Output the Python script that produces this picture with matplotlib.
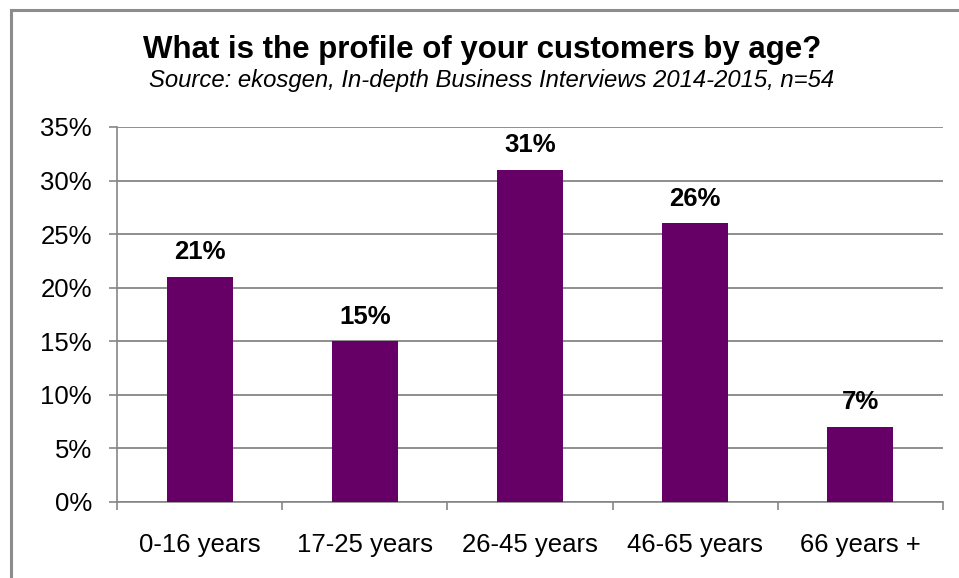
import matplotlib.pyplot as plt
import numpy as np
from matplotlib.lines import Line2D
from matplotlib.ticker import FixedLocator

plt.rcParams["font.family"] = ["Liberation Sans", "DejaVu Sans"]

CATEGORIES = ["0-16 years", "17-25 years", "26-45 years", "46-65 years", "66 years +"]
SHARES = [21, 15, 31, 26, 7]
Y_TICKS = [0, 5, 10, 15, 20, 25, 30, 35]

GRID = "#868686"
BAR = "#660066"

fig = plt.figure(figsize=(9.59, 5.78), dpi=100)
ax = fig.add_axes([0.122, 0.1315, 0.8613, 0.6488])

x = np.arange(len(CATEGORIES))
ax.bar(x, SHARES, width=0.4, color=BAR, zorder=3)
for xi, v in zip(x, SHARES):
    ax.annotate(f"{v}%", (xi, v), xytext=(0, 9), textcoords="offset points",
                ha="center", va="bottom", fontsize=18.5, fontweight="bold")

ax.set_xlim(-0.5, len(CATEGORIES) - 0.5)
ax.set_ylim(0, 35)
ax.set_yticks(Y_TICKS)
ax.set_yticklabels([f"{t}%" for t in Y_TICKS])
ax.set_xticks(x)
ax.set_xticklabels(CATEGORIES)
ax.xaxis.set_minor_locator(FixedLocator(np.arange(len(CATEGORIES) + 1) - 0.5))

ax.tick_params(axis="y", length=6, width=1.2, color=GRID, pad=12, labelsize=18.5)
ax.tick_params(axis="x", which="major", length=0, pad=22, labelsize=18.5)
ax.tick_params(axis="x", which="minor", length=6, width=1.2, color=GRID)

ax.grid(axis="y", color=GRID, linewidth=1.3, zorder=0)
for side in ("top", "right"):
    ax.spines[side].set_visible(False)
for side in ("left", "bottom"):
    ax.spines[side].set_color(GRID)
    ax.spines[side].set_linewidth(1.2)

fig.text(0.503, 0.900, "What is the profile of your customers by age?",
         ha="center", va="baseline", fontsize=22.5, fontweight="bold")
fig.text(0.513, 0.849, "Source: ekosgen, In-depth Business Interviews 2014-2015, n=54",
         ha="center", va="baseline", fontsize=17.2, style="italic")

# open frame: top and left edges only
fig.add_artist(Line2D([0.011, 1.0], [0.983, 0.983], color="#8c8c8c", linewidth=2.2))
fig.add_artist(Line2D([0.011, 0.011], [0.0, 0.983], color="#8c8c8c", linewidth=2.2))

fig.savefig("out.png", dpi=100)
